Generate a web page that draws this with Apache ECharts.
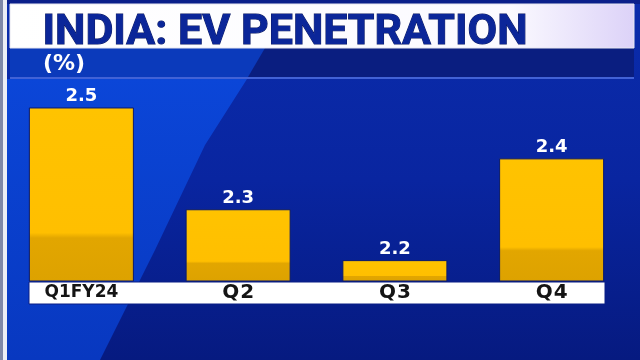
<!DOCTYPE html>
<html>
<head>
<meta charset="utf-8">
<script src="https://cdn.jsdelivr.net/npm/echarts@6/dist/echarts.min.js"></script>
<style>html,body{margin:0;padding:0;background:#0a1f85;}#c{width:640px;height:360px;}</style>
</head>
<body>
<div id="c"></div>
<script>
const categories = ['Q1FY24', 'Q2', 'Q3', 'Q4'];
const penetration = [2.5, 2.3, 2.2, 2.4];
const titleText = 'INDIA: EV PENETRATION';
const unitText = '(%)';

const chart = echarts.init(document.getElementById('c'), null, {renderer: 'canvas'});

const barColor = {
  type: 'linear', x: 0, y: 0, x2: 0, y2: 1,
  colorStops: [
    {offset: 0, color: '#FFC300'},
    {offset: 0.72, color: '#FFBF00'},
    {offset: 0.75, color: '#E2A600'},
    {offset: 1, color: '#DDA200'}
  ]
};

chart.setOption({
  animation: false,
  backgroundColor: '#0a1f85',
  graphic: [
    {type: 'rect', z: -20, shape: {x: 0, y: 0, width: 640, height: 360},
      style: {fill: {type: 'linear', x: 0, y: 0, x2: 0, y2: 1, colorStops: [
        {offset: 0, color: '#0a2cac'}, {offset: 0.5, color: '#0925a0'}, {offset: 1, color: '#061a80'}]}}},
    {type: 'polygon', z: -19, shape: {points: [[0, 79], [247, 79], [205, 145], [155, 250], [100, 360], [0, 360]]},
      style: {fill: {type: 'linear', x: 0, y: 0, x2: 0, y2: 1, colorStops: [
        {offset: 0, color: '#0b46d8'}, {offset: 1, color: '#0838c0'}]}}},
    {type: 'rect', z: -18, shape: {x: 10, y: 48, width: 624, height: 29}, style: {fill: '#0a1e80'}},
    {type: 'polygon', z: -17, shape: {points: [[10, 48], [265, 48], [248, 77], [10, 77]]}, style: {fill: '#0b3abb'}},
    {type: 'rect', z: -16, shape: {x: 10, y: 77, width: 624, height: 2}, style: {fill: '#4262d6'}},
    {type: 'rect', z: -16, shape: {x: 0, y: 0, width: 640, height: 4}, style: {fill: '#0a1f8a'}},
    {type: 'rect', z: -15, shape: {x: 10, y: 4, width: 624, height: 44},
      style: {fill: {type: 'linear', x: 0, y: 0, x2: 1, y2: 0, colorStops: [
        {offset: 0, color: '#ffffff'}, {offset: 0.8, color: '#fbfaff'}, {offset: 1, color: '#dcd2f8'}]},
        stroke: '#e6e6f0', lineWidth: 1}},
    {type: 'rect', z: -14, shape: {x: 0, y: 0, width: 3, height: 360}, style: {fill: '#7f88a8'}},
    {type: 'rect', z: -14, shape: {x: 3, y: 0, width: 4, height: 360}, style: {fill: '#eceef5'}},
    {type: 'text', z: 5, left: 42, top: 11,
      style: {text: titleText, fill: '#0b2699', font: 'bold 43px Roboto', stroke: '#071660', lineWidth: 1}},
    {type: 'text', z: 5, left: 43, top: 53,
      style: {text: unitText, fill: '#ffffff', font: 'bold 22px "DejaVu Sans"'}},
    {type: 'rect', z: -10, shape: {x: 29, y: 282, width: 576, height: 22}, style: {fill: '#ffffff', stroke: '#0a1f85', lineWidth: 1}}
  ],
  grid: {left: 3, right: 10, top: 80, bottom: 79, containLabel: false},
  xAxis: {
    type: 'category',
    data: categories,
    axisLine: {show: false},
    axisTick: {show: false},
    axisLabel: {
      margin: 1, lineHeight: 22, fontSize: 17, fontWeight: 'bold',
      fontFamily: 'DejaVu Sans', color: '#141414',
      formatter: v => v.length <= 2 ? '{q|' + v.charAt(0) + '}{n|' + v.slice(1) + '}' : v,
      rich: {
        q: {fontSize: 20, fontWeight: 'bold', fontFamily: 'DejaVu Sans', color: '#141414', lineHeight: 22},
        n: {fontSize: 20, fontWeight: 'bold', fontFamily: 'DejaVu Sans', color: '#141414', lineHeight: 22, padding: [0, 0, 0, 1]}
      }
    },
    z: 10
  },
  yAxis: {
    type: 'value', min: 2.159, max: 2.554,
    show: false, splitLine: {show: false}
  },
  series: [{
    type: 'bar',
    data: penetration,
    barCategoryGap: '33%',
    itemStyle: {color: barColor, borderColor: '#0a1a6e', borderWidth: 1},
    label: {
      show: true, position: 'top', distance: 2,
      color: '#ffffff', fontSize: 18, fontWeight: 'bold', fontFamily: 'DejaVu Sans',
      formatter: p => p.value.toFixed(1)
    }
  }]
});
</script>
</body>
</html>
